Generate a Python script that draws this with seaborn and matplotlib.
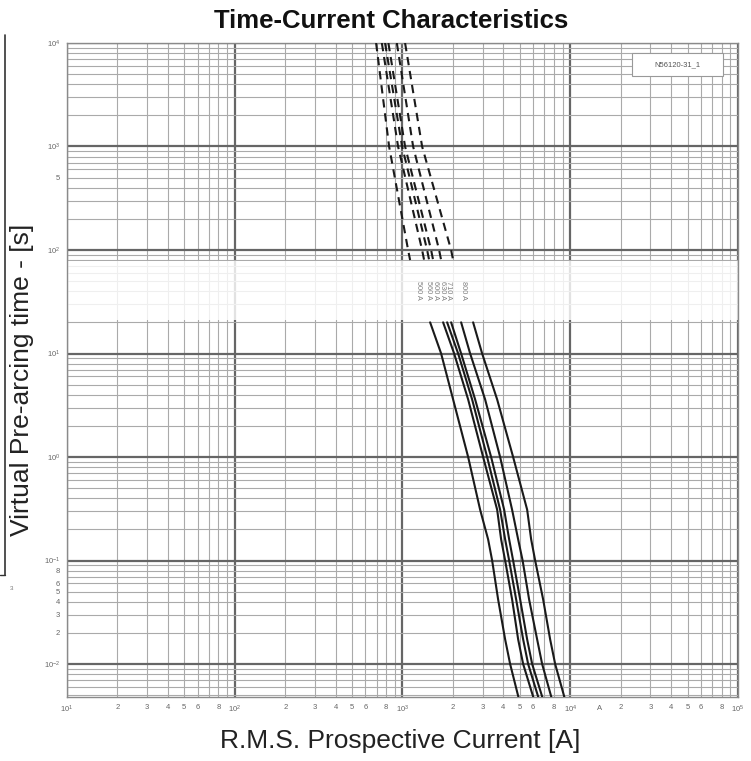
import numpy as np
import pandas as pd
import matplotlib
matplotlib.use("Agg")
import matplotlib.pyplot as plt
import seaborn as sns
from matplotlib.ticker import FixedLocator, FuncFormatter
from matplotlib.lines import Line2D
from matplotlib.patches import Rectangle

# ---------------- data ----------------
ratings = ["500 A", "560 A", "600 A", "630 A", "710 A", "800 A"]

times_dashed = [10000, 1000, 100, 80]
dashed_A = [696, 832, 1080, 1110]
dashed_B = [753, 941, 1309, 1345]
dashed_C = [787, 995, 1402, 1441]
dashed_D = [824, 1036, 1481, 1522]
dashed_E = [925, 1157, 1653, 1699]
dashed_F = [1036, 1309, 1949, 2003]

times_solid = [20, 10, 3.6, 1, 0.31, 0.16, 0.1, 0.042, 0.0173, 0.01, 0.0045]
solid_A = [1461, 1699, 2003, 2462, 2902, 3239, 3423, 3716, 4091, 4381, 4958]
solid_B = [1746, 2031, 2462, 3024, 3666, 3872, 4091, 4503, 4891, 5238, 6091]
solid_C = [1845, 2146, 2600, 3195, 3819, 4091, 4323, 4759, 5238, 5610, 6524]
solid_D = [1949, 2236, 2710, 3375, 4036, 4323, 4565, 5028, 5534, 5928, 6894]
solid_E = [2236, 2530, 3108, 3819, 4500, 4891, 5200, 5686, 6347, 6799, 7798]
solid_F = [2636, 2983, 3666, 4565, 5534, 5847, 6177, 6894, 7588, 8128, 9325]

label_current = [1239, 1422, 1565, 1722, 1870, 2297]
label_time = 41
band_low, band_high = 21, 78

x_major = [1e1, 1e2, 1e3, 1e4, 1e5]
x_major_labels = ["$10^{1}$", "$10^{2}$", "$10^{3}$", "$10^{4}$", "$10^{5}$"]
y_major = [1e-2, 1e-1, 1e0, 1e1, 1e2, 1e3, 1e4]
y_major_labels = ["$10^{-2}$", "$10^{-1}$", "$10^{0}$", "$10^{1}$", "$10^{2}$", "$10^{3}$", "$10^{4}$"]
minor_digits = [2, 3, 4, 5, 6, 8]
y_minor_labelled = [0.02, 0.03, 0.04, 0.05, 0.06, 0.08, 500]
unit_label_pos = 1.5e4
box_text = "N56120-31_1"

# ---------------- frame ----------------
dashed_sets = [dashed_A, dashed_B, dashed_C, dashed_D, dashed_E, dashed_F]
solid_sets = [solid_A, solid_B, solid_C, solid_D, solid_E, solid_F]
dash_df = pd.concat([pd.DataFrame({"curve": r, "current": c, "time": times_dashed})
                     for r, c in zip(ratings, dashed_sets)], ignore_index=True)
solid_df = pd.concat([pd.DataFrame({"curve": r, "current": c, "time": times_solid})
                      for r, c in zip(ratings, solid_sets)], ignore_index=True)

sns.set_theme(style="white")
plt.rcParams['font.family'] = ['Liberation Sans', 'DejaVu Sans']
plt.rcParams['mathtext.fontset'] = 'custom'
plt.rcParams['mathtext.rm'] = 'Liberation Sans'
plt.rcParams['mathtext.it'] = 'Liberation Sans:italic'
plt.rcParams['mathtext.bf'] = 'Liberation Sans:bold'

W, H = 751, 761
fig = plt.figure(figsize=(W / 100, H / 100), dpi=100)
ax = fig.add_axes([67 / W, 1 - 697 / H, (738 - 67) / W, (697 - 43) / H])
ax.set_xscale('log')
ax.set_yscale('log')
ax.set_xlim(10, 1e5)
ax.set_ylim(10 ** (4 - 654 / 103.5), 1e4)

def minors(lo, hi):
    out = []
    for e in range(lo, hi):
        for k in range(2, 10):
            out.append(k * 10.0 ** e)
    return out

ax.xaxis.set_major_locator(FixedLocator(x_major))
ax.yaxis.set_major_locator(FixedLocator(y_major))
ax.xaxis.set_minor_locator(FixedLocator(minors(1, 5)))
ax.yaxis.set_minor_locator(FixedLocator(minors(-3, 4)))
ax.set_xticklabels(x_major_labels)
ax.set_yticklabels(y_major_labels)

def xminor_fmt(v, pos):
    d = int(round(v / 10 ** np.floor(np.log10(v) + 1e-9)))
    return str(d) if d in minor_digits else ""

def yminor_fmt(v, pos):
    for m in y_minor_labelled:
        if abs(v - m) / m < 1e-6:
            d = int(round(v / 10 ** np.floor(np.log10(v) + 1e-9)))
            return str(d)
    return ""

ax.xaxis.set_minor_formatter(FuncFormatter(xminor_fmt))
ax.yaxis.set_minor_formatter(FuncFormatter(yminor_fmt))

ax.set_axisbelow(True)
ax.grid(which='major', color='#666666', lw=1.6)
ax.grid(which='minor', color='#aaaaaa', lw=0.8)
ax.tick_params(which='both', length=0, labelsize=5.5, colors='#666', pad=5)
for s in ax.spines.values():
    s.set_color('#8a8a8a')
    s.set_linewidth(1.0)

# faded label band
ax.axhspan(band_low, band_high, color='white', alpha=0.82, lw=0, zorder=1)

# curves
sns.lineplot(data=dash_df, x="current", y="time", units="curve", estimator=None,
             sort=False, color='#1a1a1a', lw=1.5, ax=ax, zorder=3,
             linestyle=(0, (4.0, 2.8)))
sns.lineplot(data=solid_df, x="current", y="time", units="curve", estimator=None,
             sort=False, color='#1a1a1a', lw=1.5, ax=ax, zorder=3)
ax.set_xlabel("")
ax.set_ylabel("")

# rating labels
for r, c in zip(ratings, label_current):
    ax.text(c, label_time, r, rotation=-90, ha='center', va='center',
            fontsize=5.3, color='#808080', zorder=4)

# unit text on x axis
ax.text(unit_label_pos, -0.012, "A", transform=ax.get_xaxis_transform(),
        ha='center', va='top', fontsize=5.5, color='#666')

# identifier box
ax.add_patch(Rectangle((0.842, 0.9495), 0.136, 0.035, transform=ax.transAxes,
                       facecolor='white', edgecolor='#999', lw=0.8, zorder=5))
ax.text(0.91, 0.967, box_text, transform=ax.transAxes, ha='center', va='center',
        fontsize=5.5, color='#555', zorder=6)

# titles
fig.text(391 / W, 1 - 21 / H, "Time-Current Characteristics", ha='center', va='center',
         fontsize=18.5, fontweight='bold', color='#111')
fig.text(400 / W, 1 - 741 / H, "R.M.S. Prospective Current [A]", ha='center', va='center',
         fontsize=19, color='#222')
fig.text(22 / W, 1 - 380 / H, "Virtual Pre-arcing time - [s]", ha='center', va='center',
         rotation=90, fontsize=19, color='#222')

# scan artifact at left edge
fig.add_artist(Line2D([5 / W, 5 / W], [1 - 35 / H, 1 - 575 / H], color='#333', lw=1.2))
fig.add_artist(Line2D([0, 5 / W], [1 - 575 / H, 1 - 575 / H], color='#333', lw=1.0))
fig.text(12 / W, 1 - 589 / H, "3", fontsize=4.5, color='#777', ha='center', va='center')

fig.savefig("out.png", dpi=100)
